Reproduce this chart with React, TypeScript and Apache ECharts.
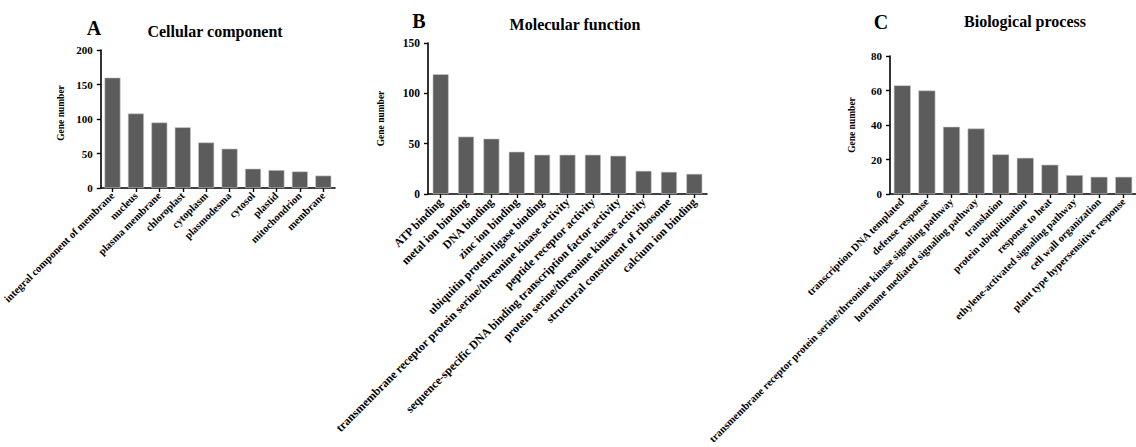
import React, { useEffect, useRef } from "react";
import * as echarts from "echarts";

// Cellular component (GO)
const ccCategories = [
  "integral component of membrane",
  "nucleus",
  "plasma membrane",
  "chloroplast",
  "cytoplasm",
  "plasmodesma",
  "cytosol",
  "plastid",
  "mitochondrion",
  "membrane",
];
const ccValues = [160, 108, 95, 88, 66, 57, 28, 26, 24, 18];

// Molecular function (GO)
const mfCategories = [
  "ATP binding",
  "metal ion binding",
  "DNA binding",
  "zinc ion binding",
  "ubiquitin protein ligase binding",
  "transmembrane receptor protein serine/threonine kinase activity",
  "peptide receptor activity",
  "sequence-specific DNA binding transcription factor activity",
  "protein serine/threonine kinase activity",
  "structural constituent of ribosome",
  "calcium ion binding",
];
const mfValues = [119, 57, 55, 42, 39, 39, 39, 38, 23, 22, 20];

// Biological process (GO)
const bpCategories = [
  "transcription DNA templated",
  "defense response",
  "transmembrane receptor protein serine/threonine kinase signaling pathway",
  "hormone mediated signaling pathway",
  "translation",
  "protein ubiquitination",
  "response to heat",
  "ethylene-activated signaling pathway",
  "cell wall organization",
  "plant type hypersensitive response",
];
const bpValues = [63, 60, 39, 38, 23, 21, 17, 11, 10, 10];

const yMaxes = [200, 150, 80];
const yIntervals = [50, 50, 20];
const panelTitles = ["Cellular component", "Molecular function", "Biological process"];
const panelLetters = ["A", "B", "C"];

const FONT = "Liberation Serif, Times New Roman, serif";
const BAR = "#5c5c5c";

export default function App() {
  const ref = useRef<HTMLDivElement>(null);

  useEffect(() => {
    if (!ref.current) return;
    const chart = echarts.init(ref.current, undefined, { renderer: "svg" });

    const grids = [
      { left: 96, top: 50, width: 239, height: 138 },
      { left: 428, top: 43, width: 279, height: 151 },
      { left: 890, top: 56, width: 250, height: 144 },
    ];
    const cats = [ccCategories, mfCategories, bpCategories];
    const vals = [ccValues, mfValues, bpValues];
    const barWidths = [16, 16, 17];
    const nameGaps = [35, 42, 33];
    const namePads = [
      [0, 0, 0, 12],
      [0, 0, 0, 0],
      [0, 0, 0, 0],
    ];
    const xLabelSizes = [10.6, 11.8, 10.6];
    const yLabelSizes = [11, 11.5, 11];

    const axisLine = { show: true, lineStyle: { color: "#000", width: 1.6 } };
    const axisTick = { show: true, length: 4, lineStyle: { color: "#000", width: 1.4 } };

    const titleSpots = [
      { letter: [94, 28], title: [215, 31] },
      { letter: [419, 21], title: [575, 24] },
      { letter: [881, 22], title: [1025, 21] },
    ];

    const graphic: any[] = [];
    titleSpots.forEach((s, i) => {
      graphic.push({
        type: "text",
        x: s.letter[0],
        y: s.letter[1],
        style: {
          text: panelLetters[i],
          font: `bold 20px ${FONT}`,
          fill: "#000",
          textAlign: "center",
          textVerticalAlign: "middle",
        },
      });
      graphic.push({
        type: "text",
        x: s.title[0],
        y: s.title[1],
        style: {
          text: panelTitles[i],
          font: `bold 16px ${FONT}`,
          fill: "#000",
          textAlign: "center",
          textVerticalAlign: "middle",
        },
      });
    });

    chart.setOption({
      animation: false,
      backgroundColor: "#fff",
      textStyle: { fontFamily: FONT },
      grid: grids.map((g) => ({ ...g, containLabel: false })),
      xAxis: cats.map((c, i) => ({
        type: "category",
        gridIndex: i,
        data: c,
        axisLine,
        axisTick: { ...axisTick, alignWithLabel: true },
        axisLabel: {
          interval: 0,
          rotate: 45,
          margin: 6,
          color: "#000",
          fontFamily: FONT,
          fontWeight: "bold",
          fontSize: xLabelSizes[i],
        },
      })),
      yAxis: yMaxes.map((m, i) => ({
        type: "value",
        gridIndex: i,
        min: 0,
        max: m,
        interval: yIntervals[i],
        name: "Gene number",
        nameLocation: "middle",
        nameGap: nameGaps[i],
        nameRotate: 90,
        nameTextStyle: {
          color: "#000",
          fontFamily: FONT,
          fontWeight: "bold",
          fontSize: 9.5,
          padding: namePads[i],
        },
        splitLine: { show: false },
        axisLine,
        axisTick,
        axisLabel: {
          margin: 8,
          color: "#000",
          fontFamily: FONT,
          fontWeight: "bold",
          fontSize: yLabelSizes[i],
        },
      })),
      series: vals.map((v, i) => ({
        type: "bar",
        xAxisIndex: i,
        yAxisIndex: i,
        data: v,
        barWidth: barWidths[i],
        itemStyle: { color: BAR, borderColor: "#c8c8c8", borderWidth: 0.6 },
      })),
      graphic,
    });

    return () => chart.dispose();
  }, []);

  return (
    <div
      ref={ref}
      style={{ position: "absolute", left: 0, top: 0, width: 1136, height: 447 }}
    />
  );
}
